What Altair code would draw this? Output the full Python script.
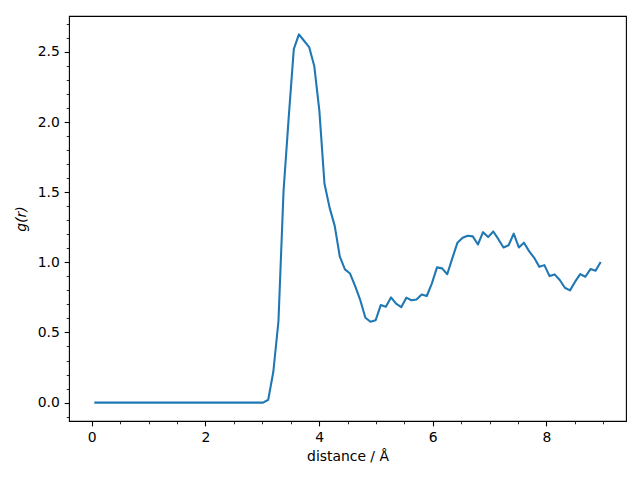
import altair as alt
import pandas as pd

# bin centres (100 bins of width 0.09 Å)
distance = [round(0.045 + 0.09 * i, 3) for i in range(100)]

g_r = [0.0] * 34 + [
    0.02, 0.22, 0.58, 1.51, 2.03, 2.52, 2.625, 2.58, 2.535, 2.40,
    2.08, 1.56, 1.39, 1.26, 1.04, 0.95, 0.92, 0.83, 0.73, 0.605,
    0.576, 0.587, 0.695, 0.684, 0.75, 0.705, 0.68, 0.748, 0.73, 0.735,
    0.77, 0.76, 0.85, 0.964, 0.957, 0.915, 1.03, 1.14, 1.175, 1.19,
    1.185, 1.127, 1.215, 1.18, 1.22, 1.165, 1.106, 1.122, 1.205, 1.106,
    1.14, 1.08, 1.032, 0.968, 0.98, 0.902, 0.914, 0.874, 0.819, 0.80,
    0.862, 0.916, 0.897, 0.952, 0.94, 1.003,
]

x_ticks = [round(0.5 * i, 1) for i in range(19)]        # 0 .. 9, majors every 2
y_ticks = [round(-0.1 + 0.1 * i, 1) for i in range(29)]  # -0.1 .. 2.7, majors every 0.5

df = pd.DataFrame({"r": distance, "g": g_r})

x_lo, x_hi = min(distance), max(distance)
y_lo, y_hi = min(g_r), max(g_r)
xm = 0.05 * (x_hi - x_lo)
ym = 0.05 * (y_hi - y_lo)

x_major = "abs(datum.value / 2 - round(datum.value / 2)) < 1e-6"
y_major = "abs(datum.value * 2 - round(datum.value * 2)) < 1e-6"

FONT = "DejaVu Sans"
FS = 13.9

x_axis = alt.Axis(
    values=x_ticks,
    labelExpr=f"{x_major} ? format(datum.value, 'd') : ''",
    tickSize={"condition": {"test": x_major, "value": 4.86}, "value": 2.78},
    tickWidth={"condition": {"test": x_major, "value": 1.1}, "value": 0.85},
    labelOverlap=False,
    labelPadding=4.86,
    title="distance / Å",
    titlePadding=5.0,
    grid=False,
    domain=False,
)
y_axis = alt.Axis(
    values=y_ticks,
    labelExpr=f"{y_major} ? format(datum.value, '.1f') : ''",
    tickSize={"condition": {"test": y_major, "value": 4.86}, "value": 2.78},
    tickWidth={"condition": {"test": y_major, "value": 1.1}, "value": 0.85},
    labelOverlap=False,
    labelPadding=4.86,
    title="g(r)",
    titleFontStyle="italic",
    titlePadding=8.5,
    grid=False,
    domain=False,
)

chart = (
    alt.Chart(df)
    .mark_line(color="#1f77b4", strokeWidth=2.08, strokeJoin="round")
    .encode(
        x=alt.X("r:Q", scale=alt.Scale(domain=[x_lo - xm, x_hi + xm], nice=False, zero=False), axis=x_axis),
        y=alt.Y("g:Q", scale=alt.Scale(domain=[y_lo - ym, y_hi + ym], nice=False, zero=False), axis=y_axis),
    )
    .properties(
        width=557,
        height=405,
        autosize=alt.AutoSizeParams(type="none"),
        padding={"left": 61, "top": 8, "right": 2, "bottom": 45},
    )
    .configure_view(stroke="black", strokeWidth=1.1)
    .configure_axis(
        labelFont=FONT,
        labelFontSize=FS,
        labelColor="black",
        titleFont=FONT,
        titleFontSize=FS,
        titleFontWeight="normal",
        titleColor="black",
        tickColor="black",
    )
)

chart.save("out.html", embed_options={"renderer": "svg", "actions": False})
